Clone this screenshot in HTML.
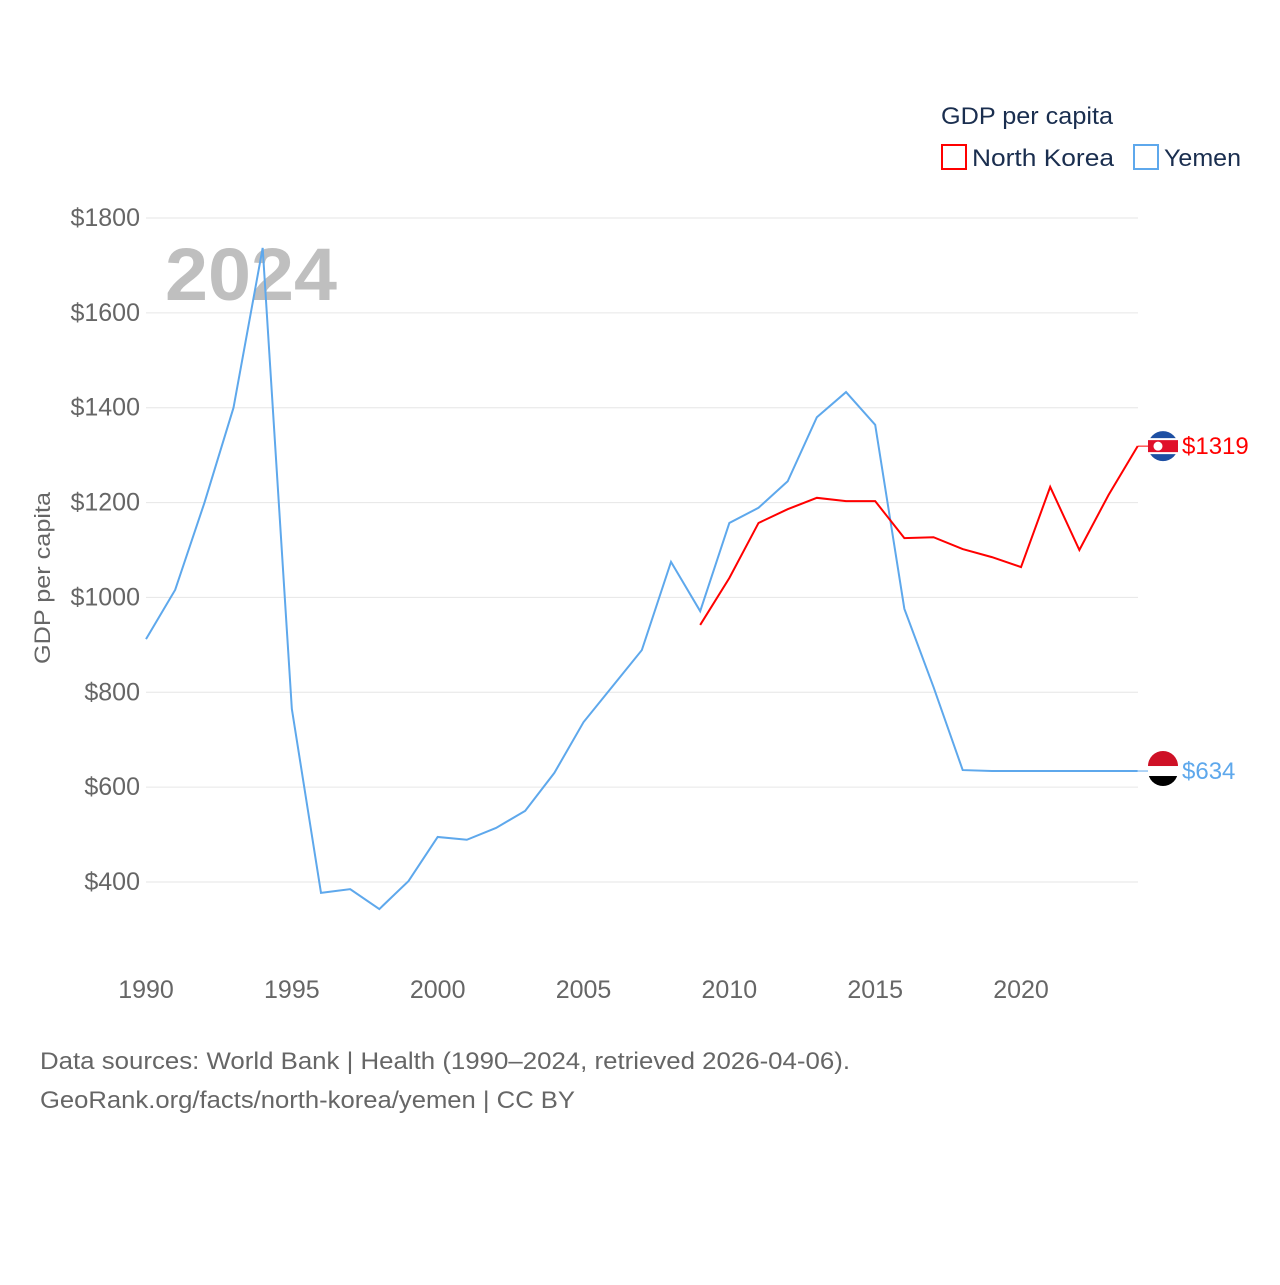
<!DOCTYPE html>
<html><head><meta charset="utf-8">
<style>
body{margin:0;background:#fff;font-family:"Liberation Sans",sans-serif;}
svg text{font-family:"Liberation Sans",sans-serif;}
</style></head>
<body>
<svg id="chart" width="1280" height="1280" viewBox="0 0 1280 1280" xmlns="http://www.w3.org/2000/svg">
<rect width="1280" height="1280" fill="#fff"/>
<g id="grid"></g>
<g id="yticks"></g>
<g id="xticks"></g>
<text x="165" y="300" font-size="74" font-weight="bold" fill="#bfbfbf" textLength="172" lengthAdjust="spacingAndGlyphs">2024</text>
<text transform="translate(50,578) rotate(-90)" text-anchor="middle" font-size="22" fill="#666" textLength="172" lengthAdjust="spacingAndGlyphs">GDP per capita</text>
<g id="series"></g>
<g>
<text x="941" y="124" font-size="24" fill="#1a2e4f" textLength="172" lengthAdjust="spacingAndGlyphs">GDP per capita</text>
<g>
<rect x="942" y="145" width="24" height="24" fill="none" stroke="#ff0000" stroke-width="2"/>
<text x="972" y="166" font-size="24" fill="#1a2e4f" textLength="142" lengthAdjust="spacingAndGlyphs">North Korea</text></g>
<g>
<rect x="1134" y="145" width="24" height="24" fill="none" stroke="#5ea8ec" stroke-width="2"/>
<text x="1164" y="166" font-size="24" fill="#1a2e4f" textLength="77" lengthAdjust="spacingAndGlyphs">Yemen</text></g>
</g>
<text x="40" y="1069" font-size="24" fill="#666" textLength="810" lengthAdjust="spacingAndGlyphs">Data sources: World Bank | Health (1990–2024, retrieved 2026-04-06).</text>
<text x="40" y="1108" font-size="24" fill="#666" textLength="535" lengthAdjust="spacingAndGlyphs">GeoRank.org/facts/north-korea/yemen | CC BY</text>
</svg>
<script>
const years = [];
for (let y = 1990; y <= 2024; y++) years.push(y);
const yemen = [912,1016,1199,1400,1737,765,377,385,343,402,495,489,514,550,630,737,813,889,1075,971,1157,1189,1245,1380,1433,1364,976,811,636,634,634,634,634,634,634];
const nkYears = [2009,2010,2011,2012,2013,2014,2015,2016,2017,2018,2019,2020,2021,2022,2023,2024];
const northKorea = [942,1041,1157,1186,1210,1203,1203,1125,1127,1102,1085,1064,1233,1100,1216,1319];
const yTicks = [400,600,800,1000,1200,1400,1600,1800];
const xTicks = [1990,1995,2000,2005,2010,2015,2020];

const NS = "http://www.w3.org/2000/svg";
const xs = v => 146 + (v - 1990) * (1137.7 - 146) / 34;
const ys = v => 218 + (1800 - v) * (882 - 218) / 1400;
function mk(tag, attrs, parent) {
  const e = document.createElementNS(NS, tag);
  for (const k in attrs) e.setAttribute(k, attrs[k]);
  parent.appendChild(e);
  return e;
}
const grid = document.getElementById('grid'), yt = document.getElementById('yticks'), xt = document.getElementById('xticks'), ser = document.getElementById('series');
yTicks.forEach(v => {
  const l = mk('line', {x1:146, x2:1138, y1:ys(v), y2:ys(v), stroke:'#e6e6e6', 'stroke-width':1}, grid);
  
  
  const t = mk('text', {x:140, y:ys(v)+8, 'text-anchor':'end', 'font-size':25, fill:'#666'}, yt);
  t.textContent = '$' + v;
  
  
});
xTicks.forEach(v => {
  const t = mk('text', {x:xs(v), y:998, 'text-anchor':'middle', 'font-size':25, fill:'#666'}, xt);
  t.textContent = v;
  
  
});
const yp = mk('polyline', {points: years.map((y,i)=>xs(y)+','+ys(yemen[i])).join(' '), fill:'none', stroke:'#5ea8ec', 'stroke-width':2}, ser);


const np = mk('polyline', {points: nkYears.map((y,i)=>xs(y)+','+ys(northKorea[i])).join(' '), fill:'none', stroke:'#ff0000', 'stroke-width':2}, ser);



const nkY = ys(northKorea[northKorea.length-1]), yeY = ys(yemen[yemen.length-1]);
const g1 = mk('g', {}, ser);


mk('line', {x1:xs(2024), x2:1150, y1:nkY, y2:nkY, stroke:'#ff0000', 'stroke-width':1}, g1);
mk('circle', {cx:1163, cy:nkY, r:15, fill:'#1d4fa3'}, g1);
mk('rect', {x:1148, y:nkY-8, width:30, height:16, fill:'#fff'}, g1);
mk('rect', {x:1148, y:nkY-6, width:30, height:12, fill:'#e0102a'}, g1);
mk('circle', {cx:1158, cy:nkY, r:4.5, fill:'#fff'}, g1);
const t1 = mk('text', {x:1182, y:nkY+8, 'font-size':24, fill:'#ff0000'}, g1);
t1.textContent = '$' + northKorea[northKorea.length-1];
const g2 = mk('g', {}, ser);


mk('line', {x1:xs(2024), x2:1150, y1:yeY, y2:yeY, stroke:'#5ea8ec', 'stroke-width':1}, g2);
mk('circle', {cx:1163, cy:yeY, r:15, fill:'#000'}, g2);
mk('path', {d:`M1148 ${yeY-5} A15 15 0 0 1 1178 ${yeY-5} Z`, fill:'#ce1126'}, g2);
mk('rect', {x:1148, y:yeY-5, width:30, height:10, fill:'#fff'}, g2);
const t2 = mk('text', {x:1182, y:yeY+8, 'font-size':24, fill:'#5ea8ec'}, g2);
t2.textContent = '$' + yemen[yemen.length-1];
</script>
</body></html>
